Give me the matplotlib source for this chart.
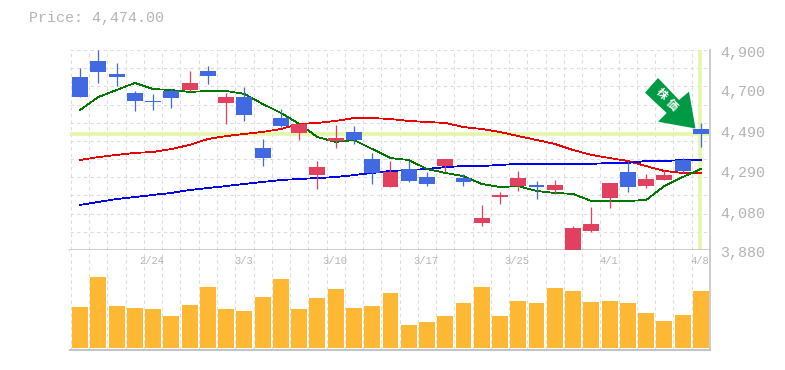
import matplotlib
matplotlib.use('Agg')
import matplotlib.pyplot as plt
from matplotlib.patches import Polygon

W, H = 785, 370
opens = [4762, 4844, 4778, 4681, 4640, 4691, 4696, 4793, 4630, 4660, 4400, 4553, 4477, 4262, 4436, 4482,
         4344, 4201, 4293, 4252, 4308, 4247, 4018, 4150, 4206, 4211, 4186, 3880, 3977, 4145, 4278, 4206, 4237, 4339, 4497]
closes = [4660, 4788, 4762, 4640, 4635, 4655, 4732, 4767, 4660, 4568, 4349, 4512, 4523, 4303, 4451, 4441,
          4273, 4278, 4232, 4217, 4344, 4227, 4043, 4161, 4247, 4201, 4211, 3992, 4013, 4222, 4201, 4242, 4262, 4283, 4474]
highs = [4808, 4900, 4834, 4691, 4676, 4701, 4793, 4818, 4681, 4711, 4446, 4599, 4523, 4334, 4517, 4512,
         4375, 4334, 4334, 4278, 4344, 4268, 4110, 4176, 4283, 4232, 4237, 4002, 4099, 4222, 4334, 4268, 4288, 4349, 4528]
lows = [4660, 4732, 4716, 4589, 4594, 4604, 4691, 4727, 4523, 4538, 4308, 4507, 4441, 4191, 4400, 4421,
        4217, 4201, 4227, 4206, 4278, 4206, 4002, 4115, 4181, 4140, 4166, 3880, 3972, 4094, 4176, 4196, 4237, 4273, 4405]
ma_green = [4594, 4660, 4696, 4732, 4701, 4696, 4686, 4691, 4691, 4676, 4625, 4579, 4523, 4456, 4431, 4441,
            4395, 4349, 4339, 4293, 4273, 4257, 4217, 4201, 4206, 4181, 4171, 4166, 4130, 4130, 4130, 4135, 4206, 4252, 4293]
ma_red = [4339, 4354, 4365, 4375, 4380, 4395, 4416, 4446, 4461, 4472, 4482, 4497, 4523, 4528, 4538, 4553,
          4553, 4548, 4538, 4533, 4528, 4507, 4497, 4482, 4461, 4441, 4421, 4390, 4365, 4349, 4334, 4308, 4283, 4273, 4273]
ma_blue = [4110, 4125, 4140, 4150, 4161, 4171, 4186, 4196, 4206, 4217, 4227, 4237, 4242, 4247, 4252, 4262,
           4273, 4283, 4288, 4293, 4303, 4308, 4308, 4314, 4319, 4319, 4319, 4319, 4319, 4324, 4324, 4334, 4334, 4339, 4339]
volumes = [41, 71, 42, 40, 39, 32, 43, 61, 39, 37, 51, 69, 39, 50, 59, 40, 42, 55,
           23, 26, 32, 45, 61, 32, 47, 45, 60, 57, 46, 47, 45, 35, 27, 33, 57]
price_ticks = [4900, 4700, 4490, 4290, 4080, 3880]
date_pos = [4, 9, 14, 19, 24, 29, 34]
date_labels = ['2/24', '3/3', '3/10', '3/17', '3/25', '4/1', '4/8']
last_price = 4474
# illisible sur l'image : ces deux caracteres sont une supposition
arrow_label = '株価'

BLEU = '#4169e1'
ROUGE = '#e2405f'
ORANGE = '#ffb833'
GRIS = '#c4c4c4'
LIME = '#e4f6a8'
VERT = '#009944'
TEXTE = '#b4b4b4'
police = ['Liberation Mono', 'DejaVu Sans Mono']

def cadre(x0, y0, x1, y1):
    return [x0 / W, 1 - y1 / H, (x1 - x0) / W, (y1 - y0) / H]

fig = plt.figure(figsize=(W / 100, H / 100), dpi=100, facecolor='white')
ax = fig.add_axes(cadre(70, 50, 710, 250))
vol = fig.add_axes(cadre(70, 250, 710, 350))

n = len(opens)
x = list(range(n))
for a in (ax, vol):
    a.set_xlim(-0.55, 34.5)
    a.set_xticks([i + 0.5 for i in range(-1, n - 1)])
    a.tick_params(length=0, labelbottom=False, labelleft=False)
    a.grid(axis='x', color='#dddddd', lw=0.8, ls=(0, (3, 3)))
    a.set_axisbelow(True)

# partie prix
ax.set_ylim(3880, 4900)
ax.set_yticks([4900 - 92.7 * i for i in range(0, 11)])
ax.grid(axis='y', color='#dddddd', lw=0.8, ls=(0, (3, 3)))
for s in ('top', 'left'):
    ax.spines[s].set_visible(False)
ax.spines['right'].set_color(GRIS)
ax.spines['bottom'].set_color(GRIS)
ax.spines['bottom'].set_linewidth(1.2)
ax.spines['right'].set_linewidth(1.2)

ax.axhline(last_price, color=LIME, lw=2.6, zorder=1.5)
ax.axvline(33.97, color=LIME, lw=2.6, ymin=0.005, zorder=1.5)

ax.plot(x, ma_red, color='#ee0000', lw=0.55, antialiased=False, zorder=2)
ax.plot(x, ma_blue, color='#0000ee', lw=0.55, antialiased=False, zorder=2)
ax.plot(x, ma_green, color='#007700', lw=0.55, antialiased=False, zorder=2)

for i in range(n):
    # bleu = baisse, rouge = hausse
    c = BLEU if closes[i] < opens[i] else ROUGE
    ax.vlines(i, lows[i], highs[i], color=c, lw=0.9, zorder=3)
    ax.bar(i, abs(closes[i] - opens[i]), bottom=min(opens[i], closes[i]), width=0.87, color=c, zorder=3)

# fleche verte
fleche = [(645, 92.7), (658, 78), (679, 100), (689, 91.7), (695.5, 128.5), (658, 121.7), (666.7, 113)]
fig.add_artist(Polygon([(a / W, 1 - b / H) for a, b in fleche], closed=True, color=VERT, lw=0,
                       transform=fig.transFigure, zorder=5))
for car, (a, b) in zip(arrow_label, [(661.5, 94), (672, 105)]):
    fig.text(a / W, 1 - b / H, car, color='white', fontsize=8, rotation=-45, weight='bold',
             family=['Noto Sans CJK JP', 'DejaVu Sans'], ha='center', va='center', zorder=6)

# volume
vol.bar(x, volumes, width=0.87, color=ORANGE, zorder=2)
vol.set_ylim(-2, 98)
for s in ('top', 'left'):
    vol.spines[s].set_visible(False)
vol.spines['right'].set_color(GRIS)
vol.spines['right'].set_linewidth(1.2)
vol.spines['bottom'].set_color(GRIS)
vol.spines['bottom'].set_linewidth(1.5)

# textes
fig.text(29 / W, 1 - 18 / H, 'Price: ' + f'{last_price:,.2f}', color=TEXTE, fontsize=10.8, family=police,
         ha='left', va='center')
for p in price_ticks:
    y = 50 + (4900 - p) / 5.1
    fig.text(720 / W, 1 - (y + 3) / H, f'{p:,}', color=TEXTE, fontsize=10.8, family=police, ha='left', va='center')
for i, lab in zip(date_pos, date_labels):
    px = 80 + 18.26 * i
    fig.text((px - 1) / W, 1 - 261 / H, lab, color=TEXTE, fontsize=7.6, family=police, ha='center', va='center')

fig.savefig('out.png', dpi=100, facecolor='white')
